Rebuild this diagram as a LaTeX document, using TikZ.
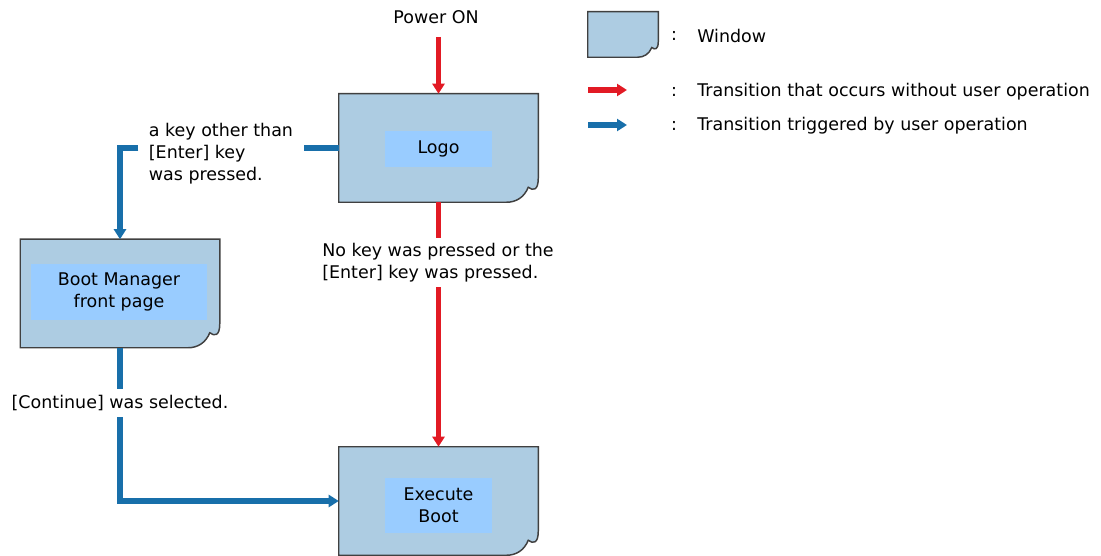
\documentclass[tikz,border=0pt]{standalone}
\usepackage{fontspec}
\setmainfont{DejaVu Sans}
\usetikzlibrary{calc,arrows.meta}

\definecolor{winfill}{RGB}{173,204,226}
\definecolor{labelfill}{RGB}{153,204,255}
\definecolor{winedge}{RGB}{64,64,64}
\definecolor{autored}{RGB}{226,26,36}
\definecolor{userblue}{RGB}{24,111,170}

\begin{document}
\begin{tikzpicture}[x=0.75pt,y=-0.75pt,
                    font=\fontsize{13.1}{16.5}\selectfont,
                    window/.style={minimum width=149.25pt,minimum height=81pt,inner sep=0pt},
                    winshape/.style={draw=winedge,fill=winfill,line width=1.1pt},
                    winlabel/.style={fill=labelfill,inner sep=0pt,align=center},
                    note/.style={inner sep=0pt,align=left},
                    autoarrow/.style={-{Triangle[length=7.5pt,width=9pt]},line width=3.9pt,autored},
                    userarrow/.style={-{Triangle[length=7.5pt,width=9pt]},line width=3.9pt,userblue}]
  \useasboundingbox (0,0) rectangle (1101,556);

  % windows
  \node[window] (logo) at (438.5,148) {};
  \node[window] (bootmgr) at (120,293.5) {};
  \node[window] (exec) at (438.5,501) {};
  \node[window,minimum width=52.5pt,minimum height=33.75pt] (legwin) at (623,34.5) {};
  \foreach \w/\s in {logo/1,bootmgr/1,exec/1,legwin/0.65} {
    \draw[winshape] (\w.south west) -- (\w.north west) -- (\w.north east)
      -- ($(\w.south east)+(0,-24*\s)$)
      .. controls ($(\w.south east)+(0,-12*\s)$) and ($(\w.south east)+(-5*\s,-11*\s)$) .. ($(\w.south east)+(-10*\s,-15*\s)$)
      .. controls ($(\w.south east)+(-14*\s,-5*\s)$) and ($(\w.south east)+(-22*\s,0)$) .. ($(\w.south east)+(-32*\s,0)$)
      -- cycle;
  }
  \node[winlabel,minimum width=80.25pt,minimum height=27pt] (logolbl) at (438.5,149) {Logo};
  \node[winlabel,minimum width=132pt,minimum height=42pt] (bootmgrlbl) at (119,292) {Boot Manager\\front page};
  \node[winlabel,minimum width=80.25pt,minimum height=41.25pt] (execlbl) at (438.5,505.5) {Execute\\Boot};

  % conditions
  \node[note,outer ysep=10pt] (power) at (436,17) {Power ON};
  \node[note,outer ysep=4pt] (nokey) at (438,262.5) {No key was pressed or the\\{[Enter]} key was pressed.};
  \node[note,outer xsep=8pt] (otherkey) at (221,154) {a key other than\\{[Enter]} key\\was pressed.};
  \node[note,outer ysep=5pt] (contsel) at (120,403) {[Continue] was selected.};

  \draw[autoarrow] (power.south -| logo.north) -- (logo.north);
  \draw[autoarrow,-] (logo.south) -- (logo.south |- nokey.north);
  \draw[autoarrow] (nokey.south -| exec.north) -- (exec.north);
  \draw[userarrow,-] (logo.west) -- (otherkey.east |- logo.west);
  \draw[userarrow] (otherkey.west |- logo.west) -| (bootmgr.north);
  \draw[userarrow,-] (bootmgr.south) -- (bootmgr.south |- contsel.north);
  \draw[userarrow] (contsel.south -| bootmgr.south) |- (exec.west);

  % legend
  \coordinate (redfrom) at (588,90);
  \coordinate (redto) at (627,90);
  \coordinate (bluefrom) at (588,125);
  \coordinate (blueto) at (627,125);
  \draw[autoarrow] (redfrom) -- (redto);
  \draw[userarrow] (bluefrom) -- (blueto);
  \foreach \y/\t [count=\i] in {36/Window,92/Transition that occurs without user operation,126/Transition triggered by user operation} {
    \node[note] (colon\i) at (674,\y) {:};
    \node[note,anchor=west] (legtext\i) at (697,\y) {\t};
  }
\end{tikzpicture}
\end{document}
